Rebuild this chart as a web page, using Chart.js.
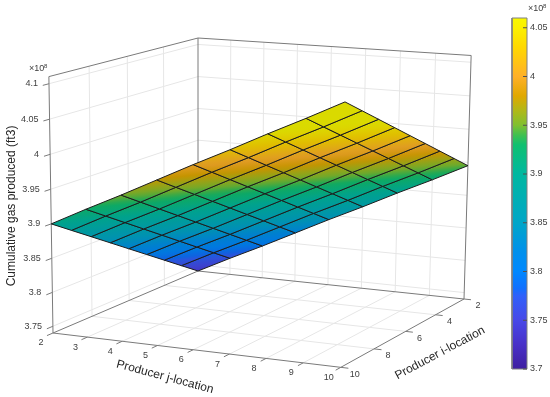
<!DOCTYPE html>
<html lang="en">
<head>
  <meta charset="UTF-8">
  <title>Cumulative gas produced</title>
  <script src="https://cdn.jsdelivr.net/npm/chart.js"></script>
  <style>
    body { margin: 0; background: #fff; }
    canvas { display: block; }
  </style>
</head>
<body>
  <canvas id="chart" width="550" height="397"></canvas>
  <script>
    // values, gas in units of 1e8 ft3
    const jLocations = [2, 3, 4, 5, 6, 7, 8, 9, 10];
    const iLocations = [2, 3, 4, 5, 6, 7, 8, 9, 10];
    const gasRows = [
      [3.740, 3.766, 3.791, 3.817, 3.843, 3.868, 3.894, 3.919, 3.945],
      [3.760, 3.786, 3.811, 3.837, 3.863, 3.888, 3.914, 3.939, 3.965],
      [3.780, 3.806, 3.831, 3.857, 3.883, 3.908, 3.934, 3.959, 3.985],
      [3.800, 3.826, 3.851, 3.877, 3.903, 3.928, 3.954, 3.979, 4.005],
      [3.820, 3.846, 3.871, 3.897, 3.923, 3.948, 3.974, 3.999, 4.025],
      [3.840, 3.866, 3.891, 3.917, 3.943, 3.968, 3.994, 4.019, 4.045],
      [3.860, 3.886, 3.911, 3.937, 3.963, 3.988, 4.014, 4.039, 4.065],
      [3.880, 3.906, 3.931, 3.957, 3.983, 4.008, 4.034, 4.059, 4.085],
      [3.900, 3.926, 3.951, 3.977, 4.003, 4.028, 4.054, 4.079, 4.105]
    ];
    const jTicks = [2, 3, 4, 5, 6, 7, 8, 9, 10];
    const iTicks = [2, 4, 6, 8, 10];
    const zTicks = [3.75, 3.8, 3.85, 3.9, 3.95, 4, 4.05, 4.1];
    const zRange = [3.74, 4.11];
    const barTicks = [3.7, 3.75, 3.8, 3.85, 3.9, 3.95, 4, 4.05];
    const barRange = [3.7, 4.06];
    const mapValues = [3.70, 3.725, 3.75, 3.775, 3.783, 3.80, 3.82, 3.85, 3.90, 3.93, 3.94, 3.95, 3.965, 3.98, 4.00, 4.03, 4.05, 4.06];
    const mapColors = ['#3f1fa0', '#4830c8', '#4848e8', '#3060fa', '#1070ff', '#0088ff', '#0090ec', '#00a6c8', '#00b8a0', '#10c070', '#40c050', '#80c030', '#b0b818', '#e0a800', '#ffb028', '#ffd800', '#fcf000', '#f8f800'];

    // camera: images of the box corners and their perspective weights
    const origin = [198, 271];
    const cornerJ = [464, 299], cornerI = [53, 333], cornerZ = [198, 38];
    const weightJ = 0.955, weightI = 0.905, weightZ = 0.975;

    function project(j, i, z) {
      const u = (j - 2) / 8, v = (i - 2) / 8, t = (z - zRange[0]) / (zRange[1] - zRange[0]);
      const w = 1 + u * (weightJ - 1) + v * (weightI - 1) + t * (weightZ - 1);
      const px = k => origin[k]
        + u * (weightJ * cornerJ[k] - origin[k])
        + v * (weightI * cornerI[k] - origin[k])
        + t * (weightZ * cornerZ[k] - origin[k]);
      return { x: px(0) / w, y: px(1) / w };
    }

    function hexRgb(h) {
      return [1, 3, 5].map(p => parseInt(h.substr(p, 2), 16));
    }

    function colorAt(z, shade) {
      let k = 0;
      while (k < mapValues.length - 2 && z > mapValues[k + 1]) k++;
      const f = Math.max(0, Math.min(1, (z - mapValues[k]) / (mapValues[k + 1] - mapValues[k])));
      const a = hexRgb(mapColors[k]), b = hexRgb(mapColors[k + 1]);
      const c = a.map((v, n) => Math.round((v + (b[n] - v) * f) * shade));
      return 'rgb(' + c.join(',') + ')';
    }

    // gradient running along the steepest direction of gas over one cell
    function cellGradient(chart, r, c) {
      const a = project(jLocations[c], iLocations[r], gasRows[r][c]);
      const b = project(jLocations[c + 1], iLocations[r], gasRows[r][c + 1]);
      const d = project(jLocations[c], iLocations[r + 1], gasRows[r + 1][c]);
      const dz1 = gasRows[r][c + 1] - gasRows[r][c], dz2 = gasRows[r + 1][c] - gasRows[r][c];
      const x1 = b.x - a.x, y1 = b.y - a.y, x2 = d.x - a.x, y2 = d.y - a.y;
      const det = x1 * y2 - x2 * y1;
      const gx = (dz1 * y2 - dz2 * y1) / det, gy = (x1 * dz2 - x2 * dz1) / det;
      const n = gx * gx + gy * gy;
      const lo = gasRows[r][c], hi = gasRows[r + 1][c + 1];
      const g = chart.ctx.createLinearGradient(a.x, a.y, a.x + gx * (hi - lo) / n, a.y + gy * (hi - lo) / n);
      for (let s = 0; s <= 6; s++) {
        g.addColorStop(s / 6, colorAt(lo + (hi - lo) * s / 6, 0.88));
      }
      return g;
    }

    function barY(z) {
      return 369 - (z - barRange[0]) / (barRange[1] - barRange[0]) * 351;
    }

    function barGradient(chart) {
      const g = chart.ctx.createLinearGradient(0, barY(barRange[0]), 0, barY(barRange[1]));
      mapValues.forEach((z, k) => {
        g.addColorStop((z - barRange[0]) / (barRange[1] - barRange[0]), mapColors[k]);
      });
      return g;
    }

    const datasets = [];
    function addLine(points, color, width) {
      datasets.push({ data: points, showLine: true, borderColor: color, borderWidth: width, pointRadius: 0, fill: false });
    }

    const zLo = zRange[0], zHi = zRange[1];
    const gridColor = '#e6e6e6', axisColor = '#7a7a7a';

    // walls and floor
    jTicks.forEach(j => {
      if (j > 2 && j < 10) addLine([project(j, 2, zLo), project(j, 2, zHi)], gridColor, 1);
      if (j > 2 && j < 10) addLine([project(j, 2, zLo), project(j, 10, zLo)], gridColor, 1);
    });
    iTicks.forEach(i => {
      if (i > 2 && i < 10) addLine([project(2, i, zLo), project(2, i, zHi)], gridColor, 1);
      if (i > 2 && i < 10) addLine([project(2, i, zLo), project(10, i, zLo)], gridColor, 1);
    });
    zTicks.forEach(z => {
      addLine([project(2, 10, z), project(2, 2, z), project(10, 2, z)], gridColor, 1);
    });

    // box edges
    addLine([project(2, 10, zLo), project(2, 2, zLo), project(10, 2, zLo)], axisColor, 1);
    addLine([project(2, 10, zHi), project(2, 2, zHi), project(10, 2, zHi)], axisColor, 1);
    addLine([project(2, 2, zLo), project(2, 2, zHi)], axisColor, 1);
    addLine([project(2, 10, zLo), project(2, 10, zHi)], axisColor, 1);
    addLine([project(10, 2, zLo), project(10, 2, zHi)], axisColor, 1);
    addLine([project(2, 10, zLo), project(10, 10, zLo), project(10, 2, zLo)], axisColor, 1);

    // tick marks
    jTicks.forEach(j => addLine([project(j, 10, zLo), project(j, 10.3, zLo)], axisColor, 1));
    iTicks.forEach(i => addLine([project(10, i, zLo), project(10.2, i, zLo)], axisColor, 1));
    zTicks.forEach(z => addLine([project(2, 10, z), project(2, 10.3, z)], axisColor, 1));

    // surface
    for (let r = 0; r < iLocations.length - 1; r++) {
      for (let c = 0; c < jLocations.length - 1; c++) {
        datasets.push({
          data: [
            project(jLocations[c], iLocations[r], gasRows[r][c]),
            project(jLocations[c + 1], iLocations[r], gasRows[r][c + 1]),
            project(jLocations[c + 1], iLocations[r + 1], gasRows[r + 1][c + 1]),
            project(jLocations[c], iLocations[r + 1], gasRows[r + 1][c]),
            project(jLocations[c], iLocations[r], gasRows[r][c])
          ],
          showLine: true,
          fill: 'shape',
          borderColor: '#1c1c1c',
          borderWidth: 1,
          pointRadius: 0,
          backgroundColor: ctx => cellGradient(ctx.chart, r, c)
        });
      }
    }

    // colorbar
    datasets.push({
      data: [
        { x: 512, y: barY(barRange[0]) }, { x: 527, y: barY(barRange[0]) },
        { x: 527, y: barY(barRange[1]) }, { x: 512, y: barY(barRange[1]) },
        { x: 512, y: barY(barRange[0]) }
      ],
      showLine: true,
      fill: 'shape',
      borderColor: '#808080',
      borderWidth: 1,
      pointRadius: 0,
      backgroundColor: ctx => barGradient(ctx.chart)
    });
    barTicks.forEach(z => addLine([{ x: 523, y: barY(z) }, { x: 527, y: barY(z) }], '#505050', 1));

    function writeText(ctx, text, x, y, size, align, angle, color) {
      ctx.save();
      ctx.translate(x, y);
      ctx.rotate((angle || 0) * Math.PI / 180);
      ctx.font = size + 'px "Liberation Sans", Arial, sans-serif';
      ctx.textAlign = align;
      ctx.textBaseline = 'middle';
      ctx.fillStyle = color;
      ctx.fillText(text, 0, 0);
      ctx.restore();
    }

    const textPlugin = {
      id: 'axisText',
      afterDraw(chart) {
        const ctx = chart.ctx, sx = chart.scales.x, sy = chart.scales.y;
        const put = (text, px, py, size, align, angle, color) =>
          writeText(ctx, text, sx.getPixelForValue(px), sy.getPixelForValue(py), size, align, angle, color);
        const tickColor = '#404040', titleColor = '#262626';
        zTicks.forEach(z => {
          const p = project(2, 10, z);
          put(String(z), p.x - 11, p.y, 9, 'right', 0, tickColor);
        });
        jTicks.forEach(j => {
          const p = project(j, 10, zLo);
          put(String(j), p.x - 12, p.y + 10, 9, 'center', 0, tickColor);
        });
        iTicks.forEach(i => {
          const p = project(10, i, zLo);
          put(String(i), p.x + 14, p.y + 7, 9, 'center', 0, tickColor);
        });
        barTicks.forEach(z => put(String(z), 530, barY(z), 9, 'left', 0, tickColor));
        put('×10', 29, 69, 9, 'left', 0, tickColor);
        put('8', 44, 66, 6, 'left', 0, tickColor);
        put('×10', 528, 9, 9, 'left', 0, tickColor);
        put('8', 543, 6, 6, 'left', 0, tickColor);
        put('Cumulative gas produced (ft3)', 12, 206, 12, 'center', -90, titleColor);
        put('Producer j-location', 165, 377, 12, 'center', 15, titleColor);
        put('Producer i-location', 440, 353, 12, 'center', -28, titleColor);
      }
    };

    new Chart(document.getElementById('chart'), {
      type: 'scatter',
      data: { datasets: datasets.reverse() },
      options: {
        responsive: false,
        animation: false,
        events: [],
        layout: { padding: 0 },
        elements: { line: { tension: 0 } },
        plugins: { legend: { display: false }, tooltip: { enabled: false } },
        scales: {
          x: { type: 'linear', min: 0, max: 550, display: false },
          y: { type: 'linear', min: 0, max: 397, reverse: true, display: false }
        }
      },
      plugins: [textPlugin]
    });
  </script>
</body>
</html>
